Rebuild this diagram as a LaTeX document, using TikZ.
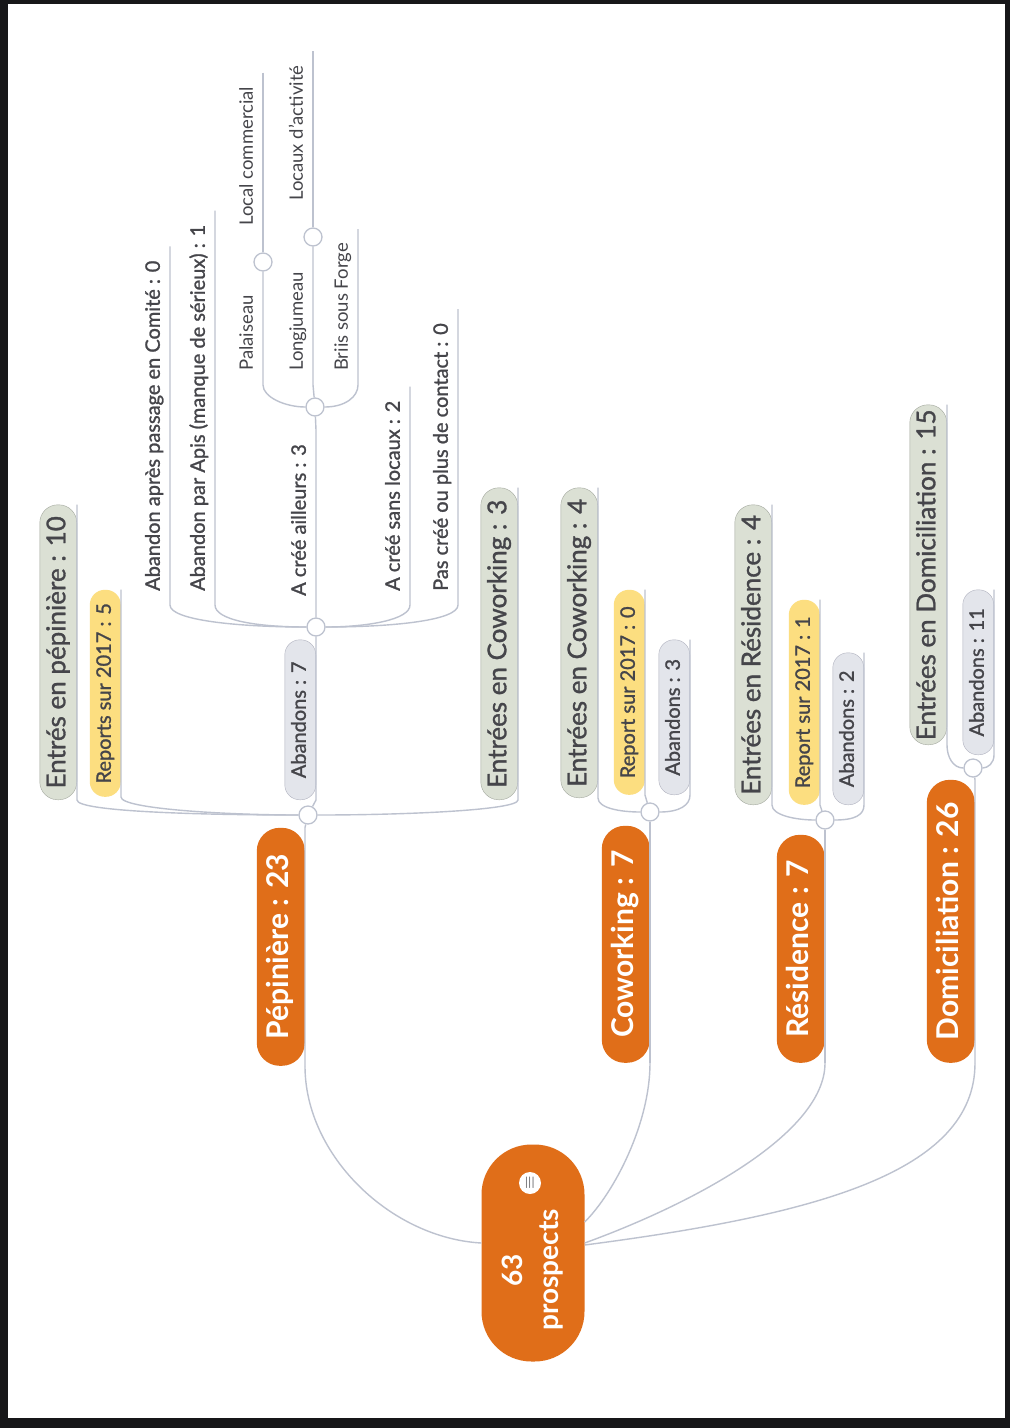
\documentclass[tikz,border=0pt]{standalone}
\usepackage{fontspec}
\setmainfont{Lato}
\newfontfamily\mapfont{Lato}[RawFeature={embolden=1.2}]
\usepackage{tikz}
\usetikzlibrary{positioning}
\definecolor{mapOrange}{rgb}{0.88,0.43,0.10}
\definecolor{mapLine}{rgb}{0.74,0.76,0.81}
\definecolor{mapText}{rgb}{0.27,0.27,0.29}
\definecolor{entryFill}{rgb}{0.86,0.88,0.83}
\definecolor{entryDraw}{rgb}{0.64,0.66,0.62}
\definecolor{reportFill}{rgb}{0.99,0.87,0.50}
\definecolor{dropFill}{rgb}{0.89,0.90,0.92}
\definecolor{dropDraw}{rgb}{0.69,0.70,0.75}
\definecolor{frameColor}{rgb}{0.09,0.09,0.10}

\begin{document}
\begin{tikzpicture}[x=1pt,y=-1pt]

          \tikzstyle{rootNode} = [rotate=90, fill=mapOrange, text=white, font=\fontsize{28}{36}\selectfont\bfseries, align=center, rounded corners=50pt, minimum width=217pt, minimum height=103pt, inner sep=0pt];
          \tikzstyle{noteIcon} = [rotate=90, circle, fill=white, text=mapText, inner sep=0pt, minimum size=22pt, font=\fontsize{17}{17}\selectfont];
          \tikzstyle{mainNode} = [rotate=90, fill=mapOrange, text=white, font=\fontsize{30}{34}\selectfont\bfseries, rounded corners=23pt, minimum height=48pt, inner sep=0pt, text height=22pt, text depth=6pt];
          \tikzstyle{entryNode} = [rotate=90, fill=entryFill, draw=entryDraw, text=mapText, font=\fontsize{26}{30}\mapfont, rounded corners=18pt, minimum height=37pt, inner sep=0pt, text height=19pt, text depth=5pt];
          \tikzstyle{reportNode} = [rotate=90, fill=reportFill, text=mapText, font=\fontsize{20}{24}\mapfont, rounded corners=15pt, minimum height=31pt, inner sep=0pt, text height=15pt, text depth=4pt];
          \tikzstyle{dropNode} = [rotate=90, fill=dropFill, draw=dropDraw, text=mapText, font=\fontsize{20}{24}\mapfont, rounded corners=15pt, minimum height=31pt, inner sep=0pt, text height=15pt, text depth=4pt];
          \tikzstyle{leafNode} = [rotate=90, text=mapText, font=\fontsize{20}{24}\mapfont, inner xsep=14pt, inner ysep=6pt, text height=15pt, text depth=4pt];
          \tikzstyle{smallLeaf} = [rotate=90, text=mapText, font=\fontsize{18.5}{22}\selectfont, inner xsep=14pt, inner ysep=6pt, text height=13pt, text depth=4pt];
          \tikzstyle{forkNode} = [circle, draw=mapLine, fill=white, line width=1.3pt, minimum size=18pt, inner sep=0pt];
          \tikzstyle{branchLine} = [draw=mapLine, line width=1.4pt];

          \fill[frameColor] (0,0) rectangle (1010,1428);
          \fill[white] (8,4) rectangle (1005,1418);

          \node[rootNode] (root) at (533,1253) {63\hspace*{34pt}\\prospects\hspace*{34pt}};
          \node[noteIcon] (memo) at (530,1183) {$\equiv$};

          \node[mainNode, minimum width=238pt, anchor=south west] (pep) at (305,1066) {Pépinière : 23};
          \node[mainNode, minimum width=237pt, anchor=south west] (cow) at (650,1063) {Coworking : 7};
          \node[mainNode, minimum width=228pt, anchor=south west] (res) at (825,1063) {Résidence : 7};
          \node[mainNode, minimum width=283pt, anchor=south west] (dom) at (975,1063) {Domiciliation : 26};

          \node[forkNode] (pepfork) at (308,815) {};
          \node[forkNode] (abfork) at (316,627) {};
          \node[forkNode] (aillfork) at (315,407) {};
          \node[forkNode] (palfork) at (263,262) {};
          \node[forkNode] (longfork) at (313,237) {};
          \node[forkNode] (cowfork) at (650,812) {};
          \node[forkNode] (resfork) at (825,820) {};
          \node[forkNode] (domfork) at (973,768) {};

          \node[entryNode, minimum width=295pt, anchor=south west] (pepentree) at (77,800) {Entrés en pépinière : 10};
          \node[reportNode, minimum width=207pt, anchor=south west] (pepreport) at (121,797) {Reports sur 2017 : 5};
          \node[dropNode, minimum width=160pt, anchor=south west] (pepaband) at (316,800) {Abandons : 7};
          \node[entryNode, minimum width=312pt, anchor=south west] (pepcowork) at (518,800) {Entrées en Coworking : 3};
          \node[entryNode, minimum width=310pt, anchor=south west] (cowentree) at (598,798) {Entrées en Coworking : 4};
          \node[reportNode, minimum width=205pt, anchor=south west] (cowreport) at (645,795) {Report sur 2017 : 0};
          \node[dropNode, minimum width=155pt, anchor=south west] (cowaband) at (690,795) {Abandons : 3};
          \node[entryNode, minimum width=300pt, anchor=south west] (resentree) at (772,805) {Entrées en Résidence : 4};
          \node[reportNode, minimum width=205pt, anchor=south west] (resreport) at (820,805) {Report sur 2017 : 1};
          \node[dropNode, minimum width=152pt, anchor=south west] (resaband) at (864,805) {Abandons : 2};
          \node[entryNode, minimum width=340pt, anchor=south west] (domentree) at (947,745) {Entrées en Domiciliation : 15};
          \node[dropNode, minimum width=165pt, anchor=south west] (domaband) at (994,755) {Abandons : 11};

          \node[leafNode, anchor=south west] (comite) at (170,605) {Abandon après passage en Comité : 0};
          \node[leafNode, anchor=south west] (apis) at (215,605) {Abandon par Apis (manque de sérieux) : 1};
          \node[leafNode, anchor=south west] (ailleurs) at (316,610) {A créé ailleurs : 3};
          \node[leafNode, anchor=south west] (sanslocaux) at (410,605) {A créé sans locaux : 2};
          \node[leafNode, anchor=south west] (pascree) at (458,605) {Pas créé ou plus de contact : 0};
          \node[smallLeaf, anchor=south west] (palaiseau) at (263,385) {Palaiseau};
          \node[smallLeaf, anchor=south west] (longjumeau) at (313,385) {Longjumeau};
          \node[smallLeaf, anchor=south west] (briis) at (358,385) {Briis sous Forge};
          \node[smallLeaf, anchor=south west] (localcom) at (263,240) {Local commercial};
          \node[smallLeaf, anchor=south west] (locaux) at (313,215) {Locaux d'activité};

          \draw[branchLine] ([yshift=10pt]root.north) .. controls +(-90,-5) and +(0,90) .. (pep.south west);
          \draw[branchLine] ([yshift=31pt]root.south) .. controls +(30,-30) and +(0,60) .. (cow.south west);
          \draw[branchLine] ([yshift=10pt]root.south) .. controls +(110,-40) and +(0,70) .. (res.south west);
          \draw[branchLine] ([yshift=8pt]root.south) .. controls +(230,-30) and +(0,110) .. (dom.south west);

          \draw[branchLine] (pep.south west) -- (pep.south east) -- (pepfork);
          \draw[branchLine] (cow.south west) -- (cow.south east) -- (cowfork);
          \draw[branchLine] (res.south west) -- (res.south east) -- (resfork);
          \draw[branchLine] (dom.south west) -- (dom.south east) -- (domfork);

          \draw[branchLine] (pepentree.south east) -- (pepentree.south west) .. controls +(0,12) and +(-100,0) .. (pepfork);
          \draw[branchLine] (pepreport.south east) -- (pepreport.south west) .. controls +(0,12) and +(-80,0) .. (pepfork);
          \draw[branchLine] (pepfork) -- (pepaband.south west) -- (pepaband.south east) -- (abfork);
          \draw[branchLine] (pepcowork.south east) -- (pepcowork.south west) .. controls +(0,10) and +(100,0) .. (pepfork);

          \draw[branchLine] (comite.south east) -- (comite.south west) .. controls +(0,15) and +(-80,0) .. (abfork);
          \draw[branchLine] (apis.south east) -- (apis.south west) .. controls +(0,15) and +(-60,0) .. (abfork);
          \draw[branchLine] (abfork) -- (ailleurs.south west) -- (ailleurs.south east) -- (aillfork);
          \draw[branchLine] (sanslocaux.south east) -- (sanslocaux.south west) .. controls +(0,15) and +(50,0) .. (abfork);
          \draw[branchLine] (pascree.south east) -- (pascree.south west) .. controls +(0,15) and +(80,0) .. (abfork);

          \draw[branchLine] (palfork) -- (palaiseau.south east) -- (palaiseau.south west) .. controls +(0,12) and +(-30,0) .. (aillfork);
          \draw[branchLine] (longfork) -- (longjumeau.south east) -- (longjumeau.south west) -- (aillfork);
          \draw[branchLine] (briis.south east) -- (briis.south west) .. controls +(0,12) and +(30,0) .. (aillfork);
          \draw[branchLine] (localcom.south east) -- (localcom.south west) -- (palfork);
          \draw[branchLine] (locaux.south east) -- (locaux.south west) -- (longfork);

          \draw[branchLine] (cowentree.south east) -- (cowentree.south west) .. controls +(0,10) and +(-30,0) .. (cowfork);
          \draw[branchLine] (cowreport.south east) -- (cowreport.south west) -- (cowfork);
          \draw[branchLine] (cowaband.south east) -- (cowaband.south west) .. controls +(0,10) and +(30,0) .. (cowfork);

          \draw[branchLine] (resentree.south east) -- (resentree.south west) .. controls +(0,10) and +(-30,0) .. (resfork);
          \draw[branchLine] (resreport.south east) -- (resreport.south west) -- (resfork);
          \draw[branchLine] (resaband.south east) -- (resaband.south west) .. controls +(0,10) and +(30,0) .. (resfork);

          \draw[branchLine] (domentree.south east) -- (domentree.south west) .. controls +(0,12) and +(-20,0) .. (domfork);
          \draw[branchLine] (domaband.south east) -- (domaband.south west) .. controls +(0,8) and +(15,0) .. (domfork);
        \end{tikzpicture}
\end{document}
